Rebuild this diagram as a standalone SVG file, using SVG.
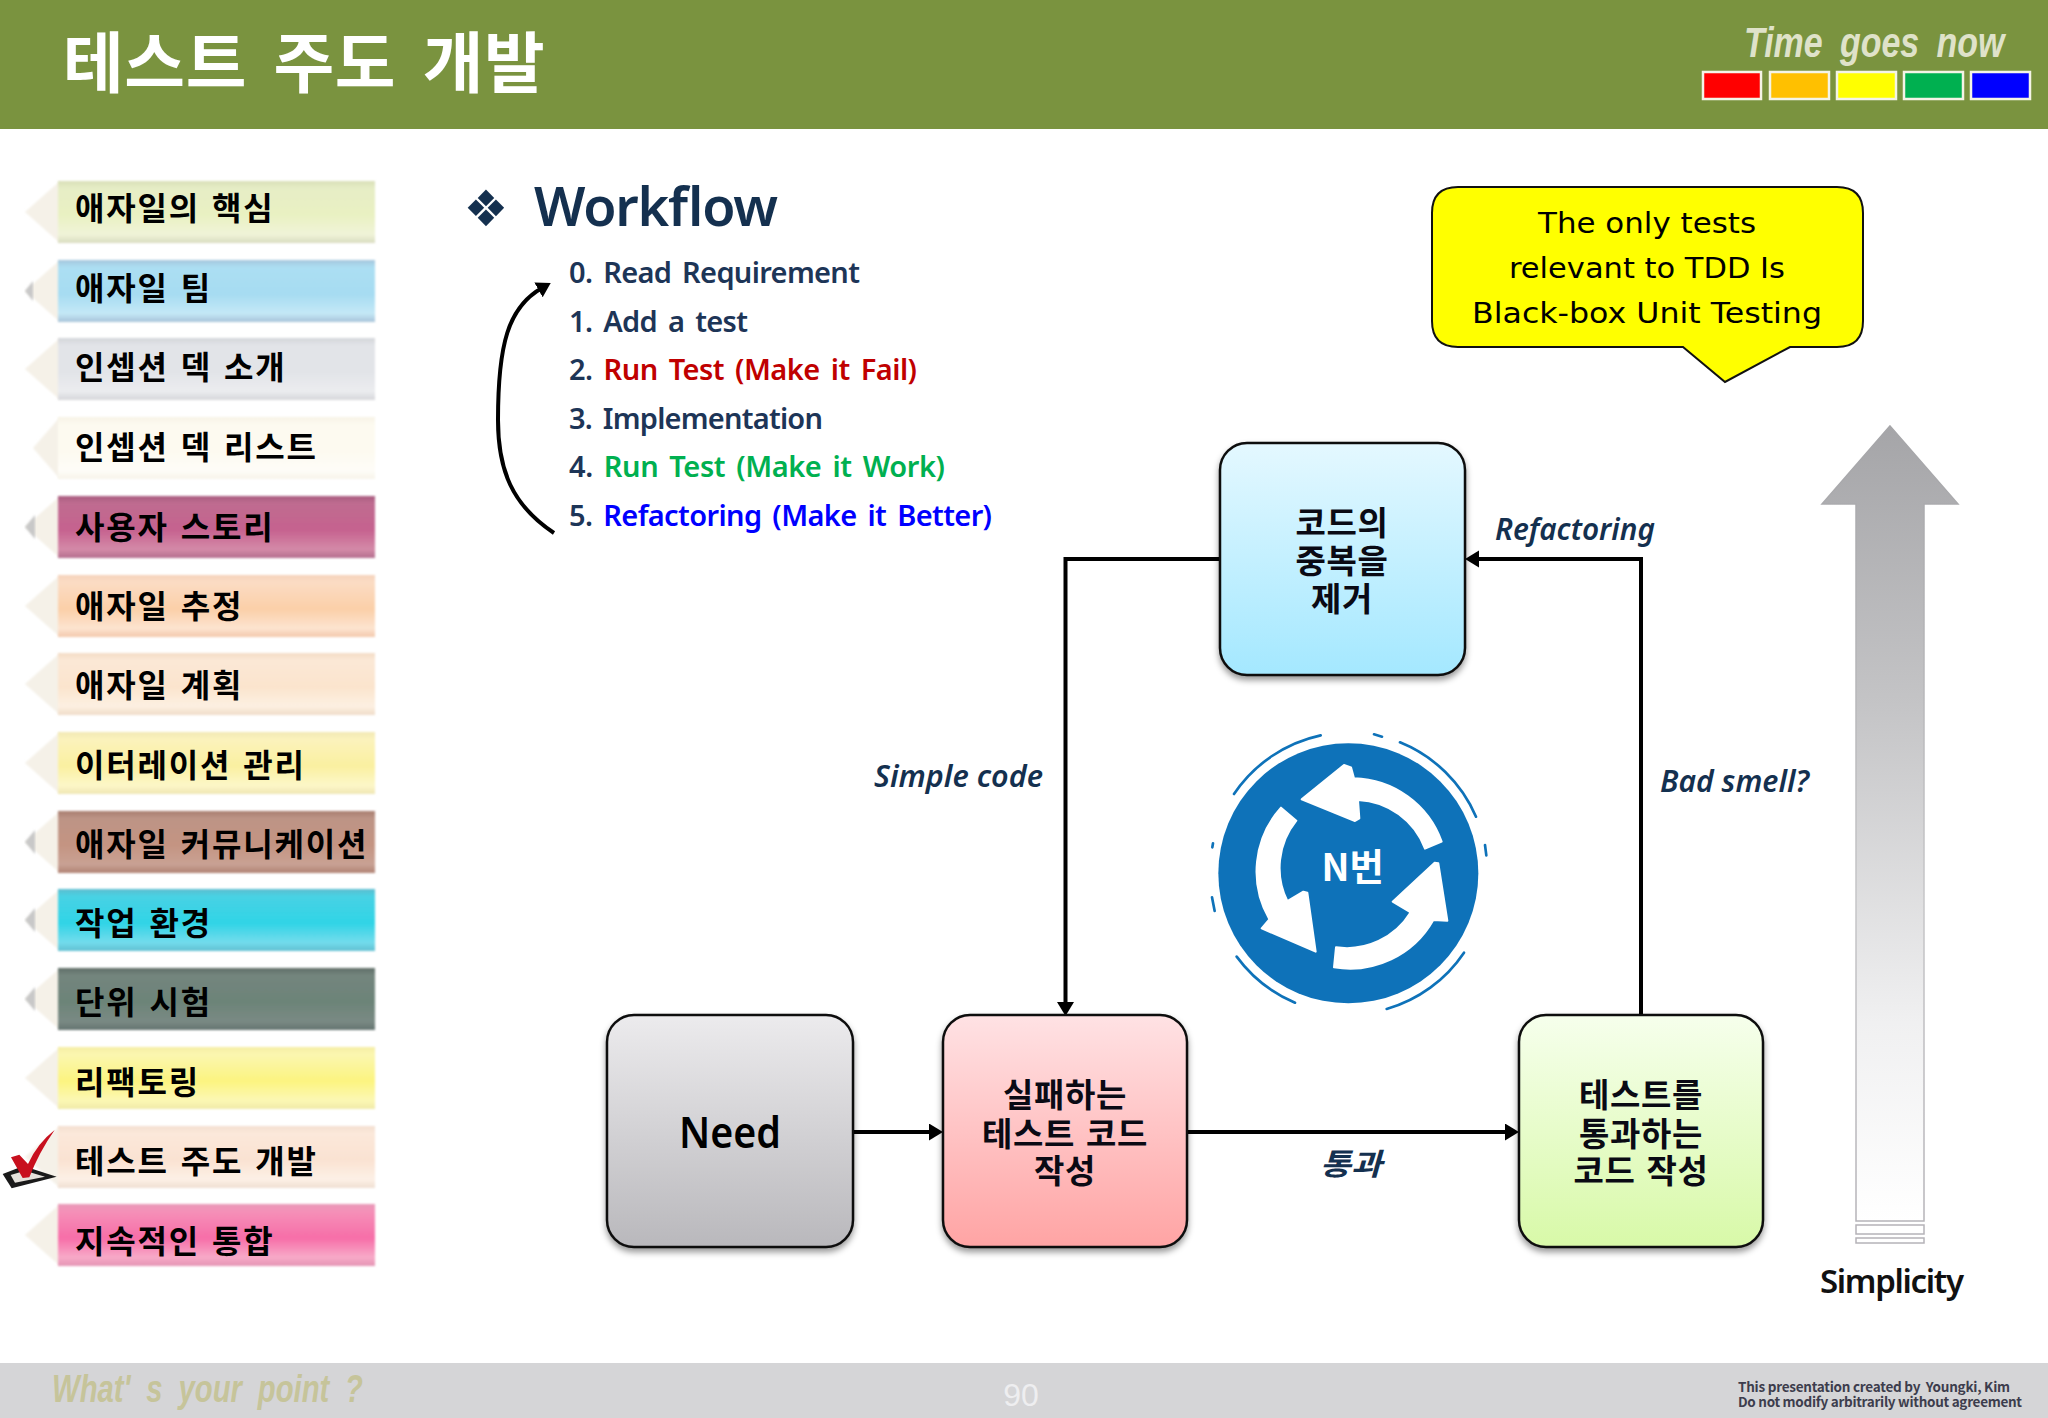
<svg xmlns="http://www.w3.org/2000/svg" width="2048" height="1418" viewBox="0 0 2048 1418">
<style>
text{font-family:"Noto Sans CJK KR","Noto Sans",sans-serif}
.lat{font-family:"Noto Sans","Noto Sans CJK KR",sans-serif}
.pl{font-size:32px;font-weight:700;fill:#000;letter-spacing:1.8px;word-spacing:3px}
.body{filter:url(#soft)}
.tip{fill:#f5f1e8;filter:url(#soft)}
.lead{fill:#c8c8c8;filter:url(#soft)}
.node{stroke:#111;stroke-width:2.5;filter:url(#shadow)}
.nt{font-size:33px;font-weight:700;fill:#0a0a14;text-anchor:middle;letter-spacing:.6px;word-spacing:3px}
.list{font-size:29px;font-weight:600;fill:#1d3557;word-spacing:4px}
.cap{font-style:italic;font-weight:600;fill:#14304f;font-size:30px}
.sw{stroke:#f4f4e6;stroke-width:2.5}
.conn{fill:none;stroke:#000;stroke-width:4}
.bub{font-family:"DejaVu Sans",sans-serif;font-size:28px;fill:#000;text-anchor:middle}
.ring{fill:none;stroke:#0e72b9;stroke-width:8;stroke-linecap:round}
.foot{font-size:13.5px;font-weight:600;fill:#3d3d4d;white-space:pre}
</style>
<defs>
<filter id="soft" x="-5%" y="-10%" width="110%" height="120%"><feGaussianBlur stdDeviation="1.1"/></filter>
<filter id="shadow" x="-10%" y="-10%" width="120%" height="120%"><feDropShadow dx="0" dy="4" stdDeviation="3" flood-color="#000" flood-opacity=".4"/></filter>
<marker id="ah" markerUnits="userSpaceOnUse" markerWidth="16" markerHeight="18" refX="4" refY="8.5" orient="auto"><path d="M0,0 L14,8.5 L0,17 Z" fill="#000"/></marker>
<linearGradient id="p1" x1="0" y1="0" x2="0" y2="1"><stop offset="0" stop-color="#d9dfb8"/><stop offset=".12" stop-color="#e6edc6"/><stop offset=".55" stop-color="#e9f1c2"/><stop offset=".86" stop-color="#f0f4d8"/><stop offset="1" stop-color="#d9dcc0"/></linearGradient>
<linearGradient id="p2" x1="0" y1="0" x2="0" y2="1"><stop offset="0" stop-color="#a5c6dc"/><stop offset=".12" stop-color="#acdff3"/><stop offset=".55" stop-color="#a6dcf2"/><stop offset=".86" stop-color="#c4e8f6"/><stop offset="1" stop-color="#a8c4da"/></linearGradient>
<linearGradient id="p3" x1="0" y1="0" x2="0" y2="1"><stop offset="0" stop-color="#d4d6da"/><stop offset=".12" stop-color="#e2e4e8"/><stop offset=".55" stop-color="#e2e4e8"/><stop offset=".86" stop-color="#ebecef"/><stop offset="1" stop-color="#d6d6da"/></linearGradient>
<linearGradient id="p4" x1="0" y1="0" x2="0" y2="1"><stop offset="0" stop-color="#f7f3e6"/><stop offset=".12" stop-color="#fdfaf0"/><stop offset=".55" stop-color="#fdfaf0"/><stop offset=".86" stop-color="#fefdf8"/><stop offset="1" stop-color="#f7f4ea"/></linearGradient>
<linearGradient id="p5" x1="0" y1="0" x2="0" y2="1"><stop offset="0" stop-color="#a95c80"/><stop offset=".12" stop-color="#bf6c90"/><stop offset=".55" stop-color="#c6628f"/><stop offset=".86" stop-color="#d48aa8"/><stop offset="1" stop-color="#b46e8e"/></linearGradient>
<linearGradient id="p6" x1="0" y1="0" x2="0" y2="1"><stop offset="0" stop-color="#f5d3bc"/><stop offset=".12" stop-color="#fbdcc4"/><stop offset=".55" stop-color="#fbcfa8"/><stop offset=".86" stop-color="#fde4d0"/><stop offset="1" stop-color="#f3c8ac"/></linearGradient>
<linearGradient id="p7" x1="0" y1="0" x2="0" y2="1"><stop offset="0" stop-color="#f3dcc6"/><stop offset=".12" stop-color="#fbe8d6"/><stop offset=".55" stop-color="#fbe4cd"/><stop offset=".86" stop-color="#fdf0e2"/><stop offset="1" stop-color="#f0dcc8"/></linearGradient>
<linearGradient id="p8" x1="0" y1="0" x2="0" y2="1"><stop offset="0" stop-color="#f2e8b4"/><stop offset=".12" stop-color="#fbf3bc"/><stop offset=".55" stop-color="#faf0a0"/><stop offset=".86" stop-color="#fdf7c8"/><stop offset="1" stop-color="#efe6b4"/></linearGradient>
<linearGradient id="p9" x1="0" y1="0" x2="0" y2="1"><stop offset="0" stop-color="#a87e70"/><stop offset=".12" stop-color="#bd9486"/><stop offset=".55" stop-color="#c49482"/><stop offset=".86" stop-color="#c9a294"/><stop offset="1" stop-color="#b08274"/></linearGradient>
<linearGradient id="p10" x1="0" y1="0" x2="0" y2="1"><stop offset="0" stop-color="#5cbccf"/><stop offset=".12" stop-color="#48d2e4"/><stop offset=".55" stop-color="#30d4e6"/><stop offset=".86" stop-color="#72dcec"/><stop offset="1" stop-color="#62c0d2"/></linearGradient>
<linearGradient id="p11" x1="0" y1="0" x2="0" y2="1"><stop offset="0" stop-color="#5f6f68"/><stop offset=".12" stop-color="#74857e"/><stop offset=".55" stop-color="#6c8478"/><stop offset=".86" stop-color="#7a8a84"/><stop offset="1" stop-color="#647470"/></linearGradient>
<linearGradient id="p12" x1="0" y1="0" x2="0" y2="1"><stop offset="0" stop-color="#f5eea4"/><stop offset=".12" stop-color="#fbf6b0"/><stop offset=".55" stop-color="#fcf480"/><stop offset=".86" stop-color="#fcf8b4"/><stop offset="1" stop-color="#f0eaa8"/></linearGradient>
<linearGradient id="p13" x1="0" y1="0" x2="0" y2="1"><stop offset="0" stop-color="#f3dfd0"/><stop offset=".12" stop-color="#fbe8da"/><stop offset=".55" stop-color="#fae2d2"/><stop offset=".86" stop-color="#fdf0e6"/><stop offset="1" stop-color="#f0dfd2"/></linearGradient>
<linearGradient id="p14" x1="0" y1="0" x2="0" y2="1"><stop offset="0" stop-color="#e89ab8"/><stop offset=".12" stop-color="#f590b8"/><stop offset=".55" stop-color="#f76ea8"/><stop offset=".86" stop-color="#f8aac8"/><stop offset="1" stop-color="#e494b4"/></linearGradient>
<linearGradient id="nb" x1="0" y1="0" x2="0" y2="1"><stop offset="0" stop-color="#e4f8ff"/><stop offset="1" stop-color="#a4e8ff"/></linearGradient>
<linearGradient id="ng" x1="0" y1="0" x2="0" y2="1"><stop offset="0" stop-color="#ecebed"/><stop offset="1" stop-color="#b9b8bc"/></linearGradient>
<linearGradient id="nr" x1="0" y1="0" x2="0" y2="1"><stop offset="0" stop-color="#ffe2e4"/><stop offset="1" stop-color="#ffa4a4"/></linearGradient>
<linearGradient id="nl" x1="0" y1="0" x2="0" y2="1"><stop offset="0" stop-color="#f6ffec"/><stop offset="1" stop-color="#d8f9a8"/></linearGradient>
<linearGradient id="big" gradientUnits="userSpaceOnUse" x1="0" y1="426" x2="0" y2="1221"><stop offset="0" stop-color="#a5a5a8"/><stop offset=".35" stop-color="#c4c4c6"/><stop offset=".75" stop-color="#f0f0f1"/><stop offset="1" stop-color="#ffffff"/></linearGradient>
<linearGradient id="bigs" gradientUnits="userSpaceOnUse" x1="0" y1="426" x2="0" y2="1221"><stop offset="0" stop-color="#a5a5a8"/><stop offset=".6" stop-color="#c6c6c8"/><stop offset="1" stop-color="#b5b3b8"/></linearGradient>
</defs>
<rect width="2048" height="1418" fill="#fff"/>

<g id="header">
<rect width="2048" height="129" fill="#7a933f"/>
<text x="63" y="87" font-size="66" font-weight="700" fill="#fff" letter-spacing=".6" word-spacing="11">테스트 주도 개발</text>
<text transform="translate(1744,57) scale(.79,1)" font-size="43" font-style="italic" font-weight="700" fill="#dfe2c9" style="font-family:'Liberation Sans',sans-serif" word-spacing="10">Time goes now</text>
<rect class="sw" x="1703" y="72" width="58" height="27" fill="#f00"/>
<rect class="sw" x="1770" y="72" width="59" height="27" fill="#ffc000"/>
<rect class="sw" x="1837" y="72" width="59" height="27" fill="#ff0"/>
<rect class="sw" x="1904" y="72" width="59" height="27" fill="#00b050"/>
<rect class="sw" x="1971" y="72" width="59" height="27" fill="#00f"/>
</g>

<g id="footer">
<rect y="1363" width="2048" height="55" fill="#d5d5d7"/>
<text x="52" y="1402" font-size="38" font-style="italic" font-weight="700" fill="#c6c49a" style="font-family:'Liberation Sans',sans-serif" textLength="311" lengthAdjust="spacingAndGlyphs" word-spacing="10">What' s your point ?</text>
<text x="1021" y="1406" font-size="32" fill="#eeeef0" text-anchor="middle" style="font-family:'Liberation Sans',sans-serif">90</text>
<text class="foot"><tspan x="1738" y="1392" textLength="272">This presentation created by  Youngki, Kim</tspan><tspan x="1738" y="1407" textLength="284">Do not modify arbitrarily without agreement</tspan></text>
</g>

<g id="menu">
<g id="item1"><path class="tip" d="M60,181 L25,212 L60,243 Z"/><rect class="body" x="58" y="181" width="317" height="62" fill="url(#p1)"/><text class="pl" x="75" y="220">애자일의 핵심</text></g>
<g id="item2"><path class="tip" d="M60,260 L25,291 L60,322 Z"/><path class="lead" d="M33,281 L25,291 L33,301 Z"/><rect class="body" x="58" y="260" width="317" height="62" fill="url(#p2)"/><text class="pl" x="75" y="300">애자일 팀</text></g>
<g id="item3"><path class="tip" d="M60,338 L25,369 L60,400 Z"/><rect class="body" x="58" y="338" width="317" height="62" fill="url(#p3)"/><text class="pl" x="75" y="379">인셉션 덱 소개</text></g>
<g id="item4"><path class="tip" d="M60,417 L33,448 L60,479 Z"/><rect class="body" x="58" y="417" width="317" height="62" fill="url(#p4)"/><text class="pl" x="75" y="459">인셉션 덱 리스트</text></g>
<g id="item5"><path class="tip" d="M60,496 L25,527 L60,558 Z"/><path class="lead" d="M35,515 L25,527 L35,539 Z"/><rect class="body" x="58" y="496" width="317" height="62" fill="url(#p5)"/><text class="pl" x="75" y="539">사용자 스토리</text></g>
<g id="item6"><path class="tip" d="M60,575 L25,606 L60,637 Z"/><rect class="body" x="58" y="575" width="317" height="62" fill="url(#p6)"/><text class="pl" x="75" y="618">애자일 추정</text></g>
<g id="item7"><path class="tip" d="M60,653 L25,684 L60,715 Z"/><rect class="body" x="58" y="653" width="317" height="62" fill="url(#p7)"/><text class="pl" x="75" y="697">애자일 계획</text></g>
<g id="item8"><path class="tip" d="M60,732 L25,763 L60,794 Z"/><rect class="body" x="58" y="732" width="317" height="62" fill="url(#p8)"/><text class="pl" x="75" y="777">이터레이션 관리</text></g>
<g id="item9"><path class="tip" d="M60,811 L25,842 L60,873 Z"/><path class="lead" d="M35,830 L25,842 L35,854 Z"/><rect class="body" x="58" y="811" width="317" height="62" fill="url(#p9)"/><text class="pl" x="75" y="856">애자일 커뮤니케이션</text></g>
<g id="item10"><path class="tip" d="M60,889 L25,920 L60,951 Z"/><path class="lead" d="M35,908 L25,920 L35,932 Z"/><rect class="body" x="58" y="889" width="317" height="62" fill="url(#p10)"/><text class="pl" x="75" y="935">작업 환경</text></g>
<g id="item11"><path class="tip" d="M60,968 L25,999 L60,1030 Z"/><path class="lead" d="M35,987 L25,999 L35,1011 Z"/><rect class="body" x="58" y="968" width="317" height="62" fill="url(#p11)"/><text class="pl" x="75" y="1014">단위 시험</text></g>
<g id="item12"><path class="tip" d="M60,1047 L25,1078 L60,1109 Z"/><rect class="body" x="58" y="1047" width="317" height="62" fill="url(#p12)"/><text class="pl" x="75" y="1094">리팩토링</text></g>
<g id="item13"><path class="tip" d="M60,1126 L25,1157 L60,1188 Z"/><rect class="body" x="58" y="1126" width="317" height="62" fill="url(#p13)"/><text class="pl" x="75" y="1173">테스트 주도 개발</text></g>
<g id="item14"><path class="tip" d="M60,1204 L25,1235 L60,1266 Z"/><rect class="body" x="58" y="1204" width="317" height="62" fill="url(#p14)"/><text class="pl" x="75" y="1253">지속적인 통합</text></g>
<g id="check" transform="translate(0,1040) scale(.3333)">
<path d="M8,402 L70,378 L170,410 L35,445 Z" fill="#1a1a1a"/>
<path d="M32,405 L75,392 L135,410 L45,428 Z" fill="#e6e2dc"/>
<path d="M33,352 L58,344 L84,372 Q112,310 164,270 Q118,335 88,412 L68,414 Z" fill="#c8101e"/>
</g>
</g>

<g id="workflow">
<text x="486" y="226" font-size="50" text-anchor="middle" fill="#14304f" style="font-family:'DejaVu Sans',sans-serif">❖</text>
<text class="lat" x="534" y="226" font-size="54" font-weight="600" fill="#14304f" textLength="244">Workflow</text>
<text class="list lat" x="569" y="283" textLength="291">0. Read Requirement</text>
<text class="list lat" x="569" y="332" textLength="179">1. Add a test</text>
<text class="list lat" x="569" y="380" textLength="348">2. <tspan fill="#c00000">Run Test (Make it Fail)</tspan></text>
<text class="list lat" x="569" y="429" textLength="254">3. Implementation</text>
<text class="list lat" x="569" y="477" textLength="376">4. <tspan fill="#00b050">Run Test (Make it Work)</tspan></text>
<text class="list lat" x="569" y="526" textLength="423">5. <tspan fill="#0000ff">Refactoring (Make it Better)</tspan></text>
</g>

<g id="connectors">
<path class="conn" marker-end="url(#ah)" d="M554,533 C512,505 498,470 498,420 C498,345 508,307 542,288"/>
<path class="conn" marker-end="url(#ah)" d="M853,1132 H933"/>
<path class="conn" marker-end="url(#ah)" d="M1187,1132 H1509"/>
<path class="conn" marker-end="url(#ah)" d="M1641,1016 V559 H1475"/>
<path class="conn" marker-end="url(#ah)" d="M1220,559 H1065.500 V1006"/>
</g>

<g id="node-callout">
<path d="M1458,187 H1837 Q1863,187 1863,213 V321 Q1863,347 1837,347 H1790 L1725,382 L1683,347 H1458 Q1432,347 1432,321 V213 Q1432,187 1458,187 Z" fill="#ff0" stroke="#111" stroke-width="2"/>
<text class="bub" x="1647" y="233" textLength="218" lengthAdjust="spacingAndGlyphs">The only tests</text>
<text class="bub" x="1647" y="278" textLength="276" lengthAdjust="spacingAndGlyphs">relevant to TDD Is</text>
<text class="bub" x="1647" y="323" textLength="350" lengthAdjust="spacingAndGlyphs">Black-box Unit Testing</text>
</g>

<g id="node-dedupe">
<rect class="node" x="1220" y="443" width="245" height="232" rx="27" fill="url(#nb)"/>
<text class="nt"><tspan x="1342" y="535">코드의</tspan><tspan x="1342" y="573">중복을</tspan><tspan x="1342" y="611">제거</tspan></text>
</g>
<g id="node-need">
<rect class="node" x="607" y="1015" width="246" height="232" rx="27" fill="url(#ng)"/>
<text class="lat" x="730" y="1148" font-size="43" font-weight="600" text-anchor="middle" fill="#000" textLength="102" lengthAdjust="spacingAndGlyphs">Need</text>
</g>
<g id="node-fail">
<rect class="node" x="943" y="1015" width="244" height="232" rx="27" fill="url(#nr)"/>
<text class="nt"><tspan x="1065" y="1107">실패하는</tspan><tspan x="1065" y="1146">테스트 코드</tspan><tspan x="1065" y="1183">작성</tspan></text>
</g>
<g id="node-pass">
<rect class="node" x="1519" y="1015" width="244" height="232" rx="27" fill="url(#nl)"/>
<text class="nt"><tspan x="1641" y="1107">테스트를</tspan><tspan x="1641" y="1146">통과하는</tspan><tspan x="1641" y="1183">코드 작성</tspan></text>
</g>

<g id="labels">
<text class="cap lat" x="874" y="787" textLength="169" lengthAdjust="spacingAndGlyphs">Simple code</text>
<text class="cap lat" x="1495" y="540" textLength="160" lengthAdjust="spacingAndGlyphs">Refactoring</text>
<text class="cap lat" x="1660" y="792" textLength="149" lengthAdjust="spacingAndGlyphs">Bad smell?</text>
<text class="cap" x="1320" y="1175" textLength="62" lengthAdjust="spacingAndGlyphs">통과</text>
</g>

<g id="node-loop" transform="translate(1170,710) scale(.33333)">
<circle cx="535" cy="490" r="390" fill="#0e72b9"/>
<path class="ring" d="M192,252 A420,420 0 0 1 452,76"/>
<path class="ring" d="M690,97 A420,420 0 0 1 918,320"/>
<path class="ring" d="M882,728 A420,420 0 0 1 650,897"/>
<path class="ring" d="M375,878 A420,420 0 0 1 200,740"/>
<path class="ring" d="M612,73 L636,80"/>
<path class="ring" d="M945,405 L949,436"/>
<path class="ring" d="M129,400 L127,412"/>
<path class="ring" d="M126,562 L134,603"/>
<g fill="#fff" stroke="#fff" stroke-width="6" stroke-linejoin="round">
<path d="M815,395 A287,287 0 0 0 552,205 L543,172 L522,165 L395,268 L555,333 L568,325 L564,270 A225,225 0 0 1 765,416 Z"/>
<path d="M333,293 A287,287 0 0 0 298,628 L275,655 L437,725 L412,548 L400,545 L352,573 A225,225 0 0 1 379,332 Z"/>
<path d="M492,772 A287,287 0 0 0 790,630 L832,632 L805,460 L794,458 L668,575 L722,607 A225,225 0 0 1 498,712 Z"/>
</g>
<text x="548" y="514" font-size="112" font-weight="700" fill="#fff" text-anchor="middle">N번</text>
</g>

<g id="node-simplicity">
<path d="M1890,426 L1958,504 H1924 V1221 H1856 V504 H1822 Z" fill="url(#big)" stroke="url(#bigs)" stroke-width="1.500"/>
<rect x="1856" y="1225" width="68" height="9" fill="#fff" stroke="#b5b3b8" stroke-width="1.500"/>
<rect x="1856" y="1238" width="68" height="5" fill="#fff" stroke="#b5b3b8" stroke-width="1.500"/>
<text class="lat" x="1892" y="1293" font-size="33" font-weight="600" text-anchor="middle" fill="#111" textLength="144">Simplicity</text>
</g>
</svg>
